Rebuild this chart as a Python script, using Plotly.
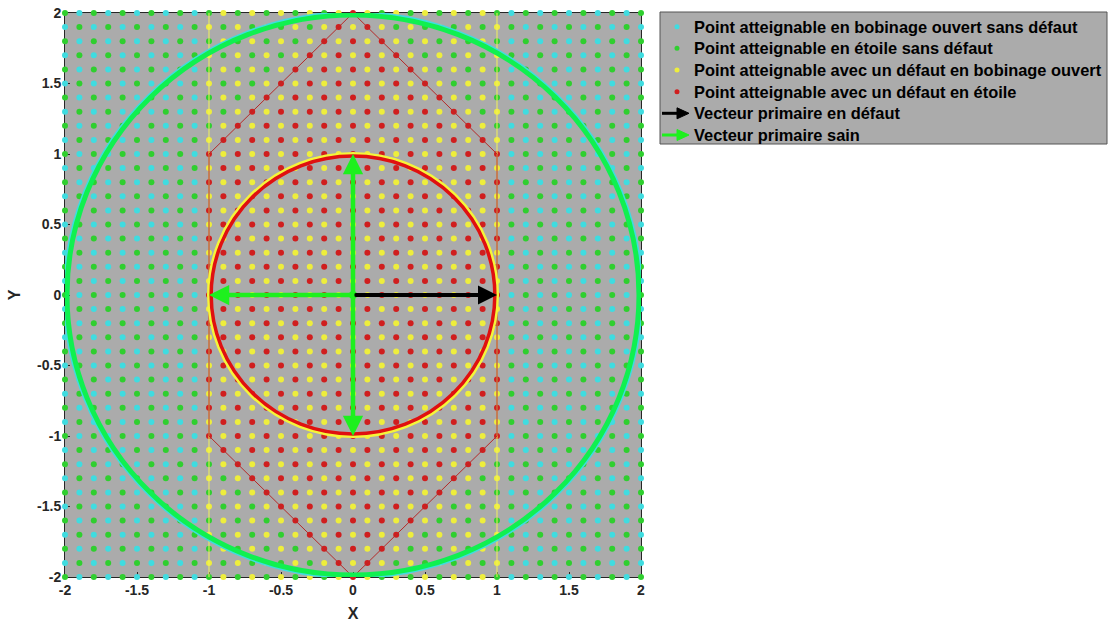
import numpy as np
import plotly.graph_objects as go

# ---- data -------------------------------------------------------------
grid_step = 0.1
grid_index = list(range(-20, 21))          # lattice indices on each axis
band_half_width = 10                       # |x| <= 1.0 (in lattice units)
hexagon_sum_limit = 20                     # |x| + |y| <= 2.0 (in lattice units)

hexagon_x = [0, 1, 1, 0, -1, -1, 0]
hexagon_y = [2, 1, -1, -2, -1, 1, 2]
band_lines_x = [-1, 1]

outer_radius = 2.0
inner_radius = 1.0

faulty_vector = (1, 0)                     # black arrow
healthy_vectors = [(-1, 0), (0, 1), (0, -1)]  # green arrows

tick_vals = [-2, -1.5, -1, -0.5, 0, 0.5, 1, 1.5, 2]
tick_text = ["-2", "-1.5", "-1", "-0.5", "0", "0.5", "1", "1.5", "2"]

names = [
    "Point atteignable en bobinage ouvert sans défaut",
    "Point atteignable en étoile sans défaut",
    "Point atteignable avec un défaut en bobinage ouvert",
    "Point atteignable avec un défaut en étoile",
    "Vecteur primaire en défaut",
    "Vecteur primaire sain",
]

# ---- lattice classification ------------------------------------------
cyan_pts, green_pts, yellow_pts, red_pts = [], [], [], []
for i in grid_index:
    for j in grid_index:
        p = (round(i * grid_step, 1), round(j * grid_step, 1))
        odd = (i + j) % 2 != 0
        in_band = abs(i) <= band_half_width
        in_hex = in_band and abs(i) + abs(j) <= hexagon_sum_limit
        if odd:
            (yellow_pts if in_band else cyan_pts).append(p)
        else:
            (red_pts if in_hex else green_pts).append(p)

C_CYAN = "#3FDCE0"
C_GREEN = "#2FCF2F"
C_YELLOW = "#EEEE3C"
C_RED = "#D01E1E"
C_BG = "#ABABAB"
C_GREEN_ARROW = "#1EF01E"
C_GREEN_CIRCLE = "#10F050"
FONT = "Liberation Sans, Arial"
point_colors = [C_CYAN, C_GREEN, C_YELLOW, C_RED]
arrow_colors = ["black", C_GREEN_ARROW]

# ---- figure geometry ----------------------------------------------------
FIG_W, FIG_H = 1112, 624
ML, MR, MT, MB = 65, 471, 13, 47
PW = FIG_W - ML - MR
PH = FIG_H - MT - MB


def px_to_paper(sx, sy):
    """screen pixel -> paper coordinates"""
    return (sx - ML) / PW, (FIG_H - MB - sy) / PH


fig = go.Figure()

for pts, col, nm in zip([cyan_pts, green_pts, yellow_pts, red_pts], point_colors, names[:4]):
    fig.add_trace(go.Scatter(
        x=[p[0] for p in pts], y=[p[1] for p in pts], mode="markers",
        marker=dict(size=6, color=col, line=dict(width=0)),
        name=nm, cliponaxis=False, showlegend=False))

# yellow band lines
for bx in band_lines_x:
    fig.add_trace(go.Scatter(x=[bx, bx], y=[-2, 2], mode="lines",
                             line=dict(color="#F2F25A", width=1),
                             showlegend=False, hoverinfo="skip"))
# red hexagon outline
fig.add_trace(go.Scatter(x=hexagon_x, y=hexagon_y, mode="lines",
                         line=dict(color="#B52A2A", width=1),
                         showlegend=False, hoverinfo="skip"))

# origin marker of the primary vectors
fig.add_trace(go.Scatter(x=[0], y=[0], mode="markers",
                         marker=dict(size=8, color=C_GREEN_ARROW),
                         showlegend=False, hoverinfo="skip"))

# circles (data coordinates)
shapes = [
    dict(type="circle", xref="x", yref="y", x0=-outer_radius, y0=-outer_radius,
         x1=outer_radius, y1=outer_radius, line=dict(color=C_CYAN, width=4), layer="above"),
    dict(type="circle", xref="x", yref="y", x0=-outer_radius * 0.993, y0=-outer_radius * 0.993,
         x1=outer_radius * 0.993, y1=outer_radius * 0.993, line=dict(color=C_GREEN_CIRCLE, width=5),
         layer="above"),
    dict(type="circle", xref="x", yref="y", x0=-inner_radius, y0=-inner_radius,
         x1=inner_radius, y1=inner_radius, line=dict(color="#F5F53A", width=4), layer="above"),
    dict(type="circle", xref="x", yref="y", x0=-inner_radius * 0.985, y0=-inner_radius * 0.985,
         x1=inner_radius * 0.985, y1=inner_radius * 0.985, line=dict(color="#E01010", width=3.5),
         layer="above"),
]

annotations = []
annotations.append(dict(x=faulty_vector[0], y=faulty_vector[1], ax=0, ay=0,
                        xref="x", yref="y", axref="x", ayref="y", text="",
                        showarrow=True, arrowhead=2, arrowsize=0.95, arrowwidth=4,
                        arrowcolor="black"))
for vx, vy in healthy_vectors:
    annotations.append(dict(x=vx, y=vy, ax=0, ay=0, xref="x", yref="y",
                            axref="x", ayref="y", text="", showarrow=True,
                            arrowhead=2, arrowsize=0.9, arrowwidth=4.5,
                            arrowcolor=C_GREEN_ARROW))

# ---- hand-built legend (MATLAB style box) ------------------------------
box_x0, box_y0 = px_to_paper(660, 12)
box_x1, box_y1 = px_to_paper(1107, 144)
shapes.append(dict(type="rect", xref="paper", yref="paper", x0=box_x0, y0=box_y1,
                   x1=box_x1, y1=box_y0, fillcolor=C_BG,
                   line=dict(color="#555555", width=1), layer="above"))
row_y = [26.7, 48.3, 70.0, 91.7, 113.3, 135.0]
text_x = px_to_paper(692, 0)[0]
for k, nm in enumerate(names):
    _, yp = px_to_paper(0, row_y[k])
    annotations.append(dict(x=text_x, y=yp, xref="paper", yref="paper", text=nm,
                            showarrow=False, xanchor="left", yanchor="middle",
                            font=dict(family=FONT, size=16.4, color="black", weight="bold")))
    if k < 4:
        cx0, cy0 = px_to_paper(674.5, row_y[k] - 2.5)
        cx1, cy1 = px_to_paper(679.5, row_y[k] + 2.5)
        shapes.append(dict(type="circle", xref="paper", yref="paper", x0=cx0, y0=cy1,
                           x1=cx1, y1=cy0, fillcolor=point_colors[k],
                           line=dict(width=0), layer="above"))
    else:
        col = arrow_colors[k - 4]
        lx0, ly = px_to_paper(662, row_y[k])
        lx1, _ = px_to_paper(682, row_y[k])
        shapes.append(dict(type="line", xref="paper", yref="paper", x0=lx0, y0=ly,
                           x1=lx1, y1=ly, line=dict(color=col, width=3), layer="above"))
        tx0, ty0 = px_to_paper(677, row_y[k] - 5.5)
        tx1, ty1 = px_to_paper(689, row_y[k])
        _, ty2 = px_to_paper(0, row_y[k] + 5.5)
        shapes.append(dict(type="path", xref="paper", yref="paper",
                           path=f"M {tx0} {ty0} L {tx1} {ty1} L {tx0} {ty2} Z",
                           fillcolor=col, line=dict(color=col, width=1), layer="above"))

axis_common = dict(range=[-2, 2], tickvals=tick_vals, ticktext=tick_text,
                   ticks="inside", ticklen=5, tickcolor="#262626",
                   showline=True, linecolor="#262626", linewidth=1, mirror=True,
                   showgrid=False, zeroline=False, layer="below traces",
                   automargin=False, ticklabeloverflow="allow",
                   tickfont=dict(family=FONT, size=14, color="#262626", weight="bold"))

fig.update_layout(
    width=FIG_W, height=FIG_H, autosize=False,
    margin=dict(l=ML, r=MR, t=MT, b=MB, autoexpand=False),
    paper_bgcolor="white", plot_bgcolor=C_BG,
    shapes=shapes, annotations=annotations,
    xaxis=dict(**axis_common, title=dict(text="X", standoff=11,
               font=dict(family=FONT, size=16, color="#262626", weight="bold"))),
    yaxis=dict(**axis_common, title=dict(text="Y", standoff=12,
               font=dict(family=FONT, size=16, color="#262626", weight="bold"))),
    showlegend=False,
    hovermode=False,
)

# remove the browser's default 8px body margin so the figure fills the window
fig.write_html("out.html",
               config={"displayModeBar": False, "staticPlot": True},
               post_script="document.body.style.margin='0';"
                           "document.body.style.overflow='hidden';")
